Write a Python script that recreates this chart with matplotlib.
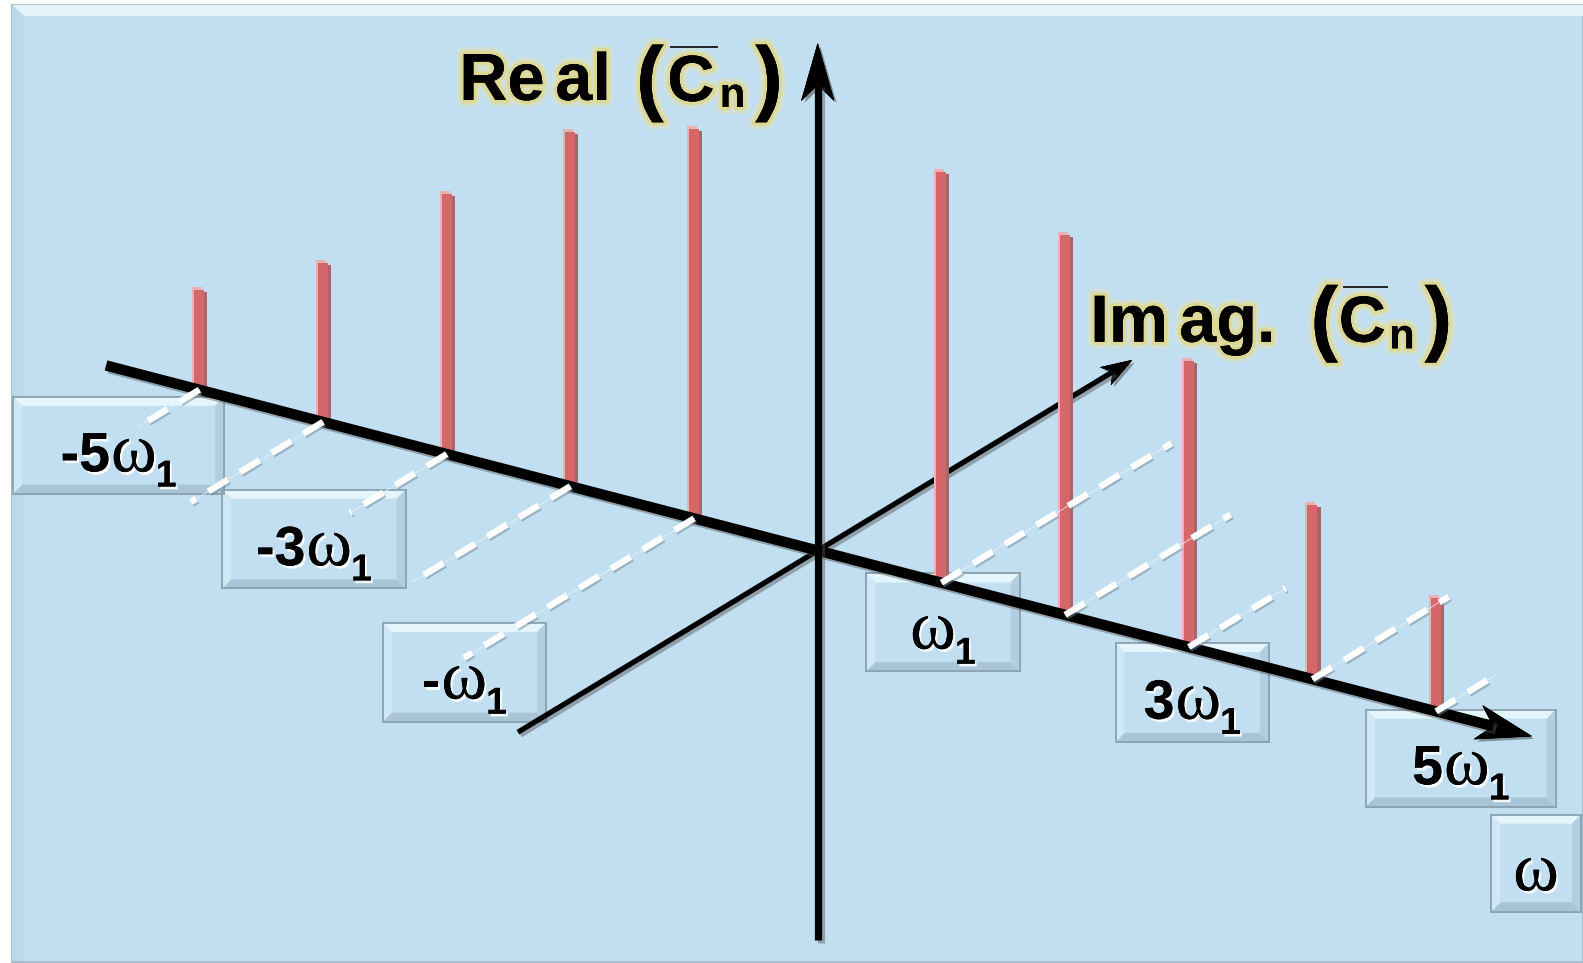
import matplotlib
matplotlib.use('Agg')
import matplotlib.pyplot as plt
import matplotlib.patheffects as pe
from matplotlib.patches import Polygon, Rectangle
import numpy as np

# Fourier coefficients C_n of the harmonics (real part up, imag part into the page)
harmonics = np.array([-5, -4, -3, -2, -1, 1, 2, 3, 4, 5])
real_part = np.array([0.99, 1.57, 2.58, 3.51, 3.86, 4.07, 3.76, 2.83, 1.73, 1.12])
imag_part = np.array([-0.60, -1.31, -0.96, -1.57, -2.28, 2.28, 1.64, 0.96, 1.35, 0.61])

# frequency tick labels (multiples of w1) and the axis name
tick_prefix = ['-5', '-3', '-', '', '3', '5']
tick_boxes = [(13, 393, 222, 489), (220, 485, 402, 583), (379, 617, 541, 715),
              (858, 568, 1010, 665), (1105, 637, 1257, 735), (1353, 703, 1541, 799)]
axis_box = (1477, 807, 1566, 903)

# oblique projection: frequency axis, imaginary axis, real axis
ORIGIN = np.array([810.0, 545.4])
E_W = np.array([122.5, 31.86])
E_I = np.array([100.0, -60.6])
E_R = np.array([0.0, -100.0])


def project(n=0.0, im=0.0, re=0.0):
    return ORIGIN + n * E_W + im * E_I + re * E_R


W, H = 1568, 954
fig = plt.figure(figsize=(15.83, 9.63), dpi=100)
fig.patch.set_facecolor('white')
ax = fig.add_axes([0, 0, 1, 1])
ax.set_xlim(0, W)
ax.set_ylim(H, 0)
ax.axis('off')

FACE = '#c2dff1'

# background panel with a bevelled top/left edge
ax.add_patch(Rectangle((12, 5), W - 12, 948, fc=FACE, ec='#9db4c2', lw=1.2, zorder=0))
ax.add_patch(Polygon([(12, 5), (W, 5), (W, 16), (24, 16)], closed=True,
                     fc='#e2f4fa', ec='none', zorder=0.5))
ax.add_patch(Polygon([(12, 5), (24, 16), (24, 952), (12, 952)], closed=True,
                     fc='#bcd9ec', ec='none', zorder=0.5))


def bevel_box(x0, y0, x1, y1, b=9, z=2):
    ax.add_patch(Rectangle((x0, y0), x1 - x0, y1 - y0, fc=FACE, ec='#8ba3b3',
                           lw=1.3, zorder=z))
    sides = [
        ([(x0, y0), (x1, y0), (x1 - b, y0 + b), (x0 + b, y0 + b)], '#e4f5fb'),
        ([(x0, y1), (x1, y1), (x1 - b, y1 - b), (x0 + b, y1 - b)], '#a8c4d6'),
        ([(x0, y0), (x0 + b, y0 + b), (x0 + b, y1 - b), (x0, y1)], '#d0e8f5'),
        ([(x1, y0), (x1 - b, y0 + b), (x1 - b, y1 - b), (x1, y1)], '#b2cfe2'),
    ]
    for pts, c in sides:
        ax.add_patch(Polygon(pts, closed=True, fc=c, ec='none', zorder=z + 0.1))
    ax.add_patch(Rectangle((x0, y0), x1 - x0, y1 - y0, fc='none', ec='#8ba3b3',
                           lw=1.3, zorder=z + 0.2))


renderer = fig.canvas.get_renderer()
px2data = W / 1583.0
label_fx = [pe.withSimplePatchShadow(offset=(1.5, -2), shadow_rgbFace='white', alpha=0.85),
            pe.Normal()]


def compose(cx, base_y, pieces, z=3):
    # pieces: (text, family, weight, size, dy, gap)
    items = []
    for s, fam, wt, size, dy, gap in pieces:
        t = ax.text(0, base_y + dy, s, ha='left', va='baseline', family=fam,
                    weight=wt, fontsize=size, color='black', zorder=z,
                    path_effects=label_fx)
        w = t.get_window_extent(renderer=renderer).width * px2data
        items.append((t, w, gap))
    total = sum(w + g for _, w, g in items) - items[-1][2]
    x = cx - total / 2
    for t, w, g in items:
        t.set_x(x)
        x += w + g


SANS = 'Liberation Sans'
SERIF = ['Liberation Serif', 'DejaVu Serif']

for prefix, (x0, y0, x1, y1) in zip(tick_prefix, tick_boxes):
    bevel_box(x0, y0, x1, y1)
    cy = (y0 + y1) / 2
    pieces = []
    if prefix:
        pieces.append((prefix, SANS, 'bold', 40, 0, 1))
    pieces.append(('ω', SERIF, 'normal', 50, 0, -1))
    pieces.append(('1', SANS, 'bold', 27, 15, 0))
    compose((x0 + x1) / 2, cy + 26, pieces)

x0, y0, x1, y1 = axis_box
bevel_box(x0, y0, x1, y1)
compose((x0 + x1) / 2, (y0 + y1) / 2 + 27, [('ω', SERIF, 'normal', 50, 0, 0)])


def arrow_head(tip, tail, length, hw, notch=0.28, z=6):
    tip = np.asarray(tip)
    d = tip - np.asarray(tail)
    d = d / np.hypot(*d)
    nrm = np.array([-d[1], d[0]])
    back = tip - d * length
    pts = [tip, back + nrm * hw, tip - d * length * (1 - notch), back - nrm * hw]
    ax.add_patch(Polygon(pts, closed=True, fc='black', ec='black', lw=0.5, zorder=z,
                         path_effects=[pe.withSimplePatchShadow(offset=(2, -2), alpha=0.35),
                                       pe.Normal()]))
    return tip - d * length * (1 - notch)


axis_fx = [pe.SimpleLineShadow(offset=(2, -2), shadow_color='#555555', alpha=0.45),
           pe.Normal()]

# imaginary axis
im_tail, im_tip = project(im=-2.97), project(im=3.11)
im_end = arrow_head(im_tip, im_tail, 30, 10, z=4)
ax.plot([im_tail[0], im_end[0]], [im_tail[1], im_end[1]], color='black', lw=3.8,
        solid_capstyle='butt', zorder=4, path_effects=axis_fx)

# coefficient bars (real part)
bx, by = [], []
for n in harmonics:
    p = project(n=n)
    bx.append(p[0])
    by.append(p[1])
bx, by = np.array(bx), np.array(by)
heights = real_part * -E_R[1]
ax.bar(bx - 2, -heights, bottom=by - 3, width=10, color='#eab0b4', zorder=4.8)
ax.bar(bx + 3, -heights, bottom=by + 2, width=10, color='#a5676c', zorder=4.9)
ax.bar(bx, -heights, bottom=by, width=10, color='#d5676b', zorder=5)

# frequency axis
w_tail, w_tip = project(n=-5.755), project(n=5.77)
w_end = arrow_head(w_tip, w_tail, 54, 17, z=6)
ax.plot([w_tail[0], w_end[0]], [w_tail[1], w_end[1]], color='black', lw=7.5,
        solid_capstyle='butt', zorder=6, path_effects=axis_fx)

# imaginary parts as dashed projections from each bar foot
for n, im in zip(harmonics, imag_part):
    a = project(n=n)
    b = project(n=n, im=im)
    ax.plot([a[0], b[0]], [a[1], b[1]], color='#e8f3f8', lw=0.7, alpha=0.8, zorder=7)
    ax.plot([a[0], b[0]], [a[1], b[1]], color='white', lw=4.6, dashes=(3.6, 2.2),
            dash_capstyle='butt', zorder=7,
            path_effects=[pe.SimpleLineShadow(offset=(1, -1.3), shadow_color='#6f8797',
                                              alpha=0.5), pe.Normal()])

# real axis
r_tail, r_tip = project(re=-3.856), project(re=5.02)
r_end = arrow_head(r_tip, r_tail, 56, 16, z=8)
ax.plot([r_tail[0], r_end[0]], [r_tail[1], r_end[1]], color='black', lw=5.2,
        solid_capstyle='butt', zorder=8, path_effects=axis_fx)

# axis titles
glow = [pe.withStroke(linewidth=10, foreground='#f1e39a', alpha=0.35),
        pe.withStroke(linewidth=5, foreground='#e6d46c', alpha=0.6),
        pe.Normal()]


def title_piece(x, y, s, size, weight='bold'):
    ax.text(x, y, s, ha='left', va='baseline', family=SANS, weight=weight,
            fontsize=size, color='black', zorder=9, path_effects=glow)


title_piece(455, 99, 'Re', 48)
title_piece(550, 99, 'al', 48)
title_piece(630, 104, '(', 60)
title_piece(661, 100, 'C', 47)
title_piece(713, 106, 'n', 30)
title_piece(748, 104, ')', 60)
ax.plot([665, 710], [46.5, 46.5], color='#222222', lw=1.4, zorder=9)

title_piece(1080, 338.5, 'Im', 48)
title_piece(1168, 338.5, 'ag.', 48)
title_piece(1298, 342, '(', 60)
title_piece(1326, 338.5, 'C', 47)
title_piece(1376, 345, 'n', 30)
title_piece(1411, 342, ')', 60)
ax.plot([1331, 1374], [284.6, 284.6], color='#222222', lw=1.4, zorder=9)

fig.savefig('out.png', dpi=100, facecolor='white')
